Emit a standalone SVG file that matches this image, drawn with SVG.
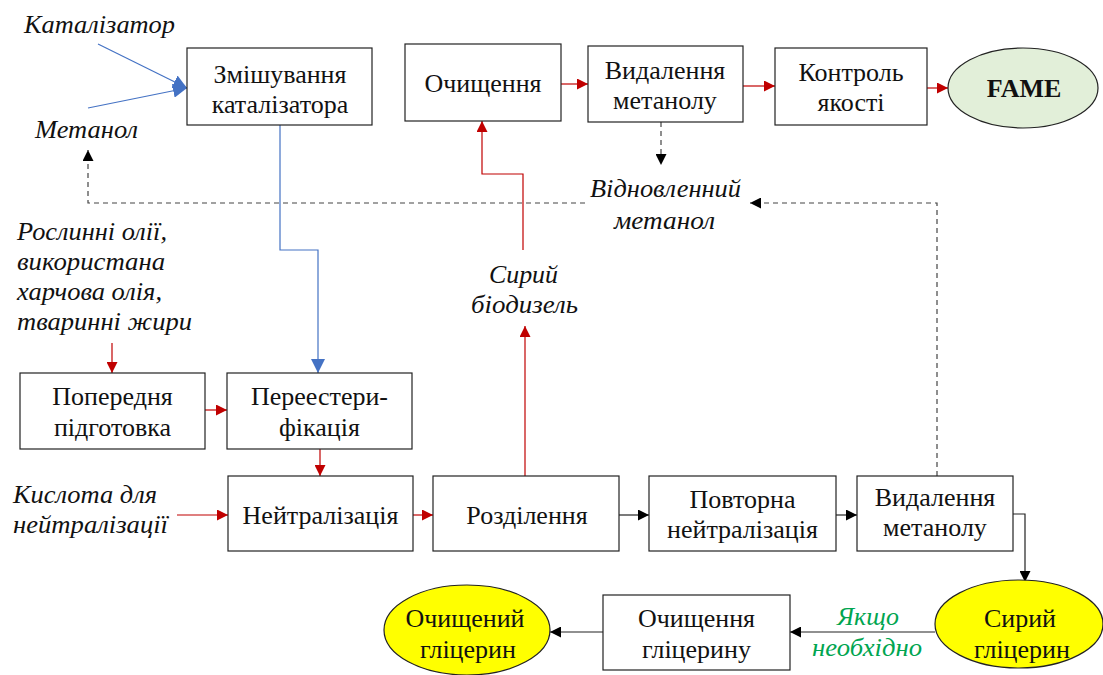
<svg xmlns="http://www.w3.org/2000/svg" width="1103" height="675" viewBox="0 0 1103 675">
<style>
.box{fill:#fff;stroke:#222;stroke-width:1.2}
.t{font-family:"Liberation Serif","Times New Roman",serif;font-size:26px;fill:#111;text-anchor:middle}
.i{font-family:"Liberation Serif","Times New Roman",serif;font-size:25px;font-style:italic;fill:#111}
.red{stroke:#c00000;stroke-width:1.2;fill:none}
.blue{stroke:#4472c4;stroke-width:1.2;fill:none}
.blk{stroke:#222;stroke-width:1.2;fill:none}
.dash{stroke:#444;stroke-width:1.2;fill:none;stroke-dasharray:5,4}
</style>
<defs>
<marker id="ar" viewBox="0 0 10 10" refX="10" refY="5" markerWidth="11" markerHeight="11" markerUnits="userSpaceOnUse" orient="auto"><path d="M0,0L10,5L0,10z" fill="#c00000"/></marker>
<marker id="ab" viewBox="0 0 10 10" refX="10" refY="5" markerWidth="14" markerHeight="14" markerUnits="userSpaceOnUse" orient="auto"><path d="M0,0L10,5L0,10z" fill="#4472c4"/></marker>
<marker id="ak" viewBox="0 0 10 10" refX="10" refY="5" markerWidth="11" markerHeight="11" markerUnits="userSpaceOnUse" orient="auto"><path d="M0,0L10,5L0,10z" fill="#000"/></marker>
</defs>
<g id="connectors">
<line class="blue" x1="98" y1="44" x2="187" y2="88" marker-end="url(#ab)"/>
<line class="blue" x1="88" y1="108" x2="187" y2="88" marker-end="url(#ab)"/>
<polyline class="blue" points="280,125 280,250 318,250 318,373" marker-end="url(#ab)"/>
<polyline class="dash" points="937,476 937,203 750,203" marker-end="url(#ak)"/>
<polyline class="dash" points="585,203 88,203 88,150" marker-end="url(#ak)"/>
<line class="dash" x1="661" y1="122" x2="661" y2="165" marker-end="url(#ak)"/>
<line class="red" x1="525" y1="476" x2="525" y2="326" marker-end="url(#ar)"/>
<polyline class="red" points="523,250 523,174 482,174 482,121" marker-end="url(#ar)"/>
<line class="red" x1="561" y1="84" x2="588" y2="84" marker-end="url(#ar)"/>
<line class="red" x1="743" y1="86" x2="775" y2="86" marker-end="url(#ar)"/>
<line class="red" x1="927" y1="88" x2="948" y2="88" marker-end="url(#ar)"/>
<line class="red" x1="112" y1="343" x2="112" y2="373" marker-end="url(#ar)"/>
<line class="red" x1="205" y1="410" x2="227" y2="410" marker-end="url(#ar)"/>
<line class="red" x1="320" y1="449" x2="320" y2="476" marker-end="url(#ar)"/>
<line class="red" x1="177" y1="515" x2="228" y2="515" marker-end="url(#ar)"/>
<line class="red" x1="413" y1="515" x2="433" y2="515" marker-end="url(#ar)"/>
<line class="blk" x1="619" y1="515" x2="649" y2="515" marker-end="url(#ak)"/>
<line class="blk" x1="836" y1="515" x2="857" y2="515" marker-end="url(#ak)"/>
<polyline class="blk" points="1013,514 1025,514 1025,582" marker-end="url(#ak)"/>
<line class="blk" x1="935" y1="632" x2="790" y2="632" marker-end="url(#ak)"/>
<line class="blk" x1="603" y1="632" x2="550" y2="632" marker-end="url(#ak)"/>
</g>
<g id="labels">
<text class="i" x="24" y="33" textLength="151" lengthAdjust="spacingAndGlyphs">Каталізатор</text>
<text class="i" x="35" y="138" textLength="103" lengthAdjust="spacingAndGlyphs">Метанол</text>
<text class="i" x="590" y="197" textLength="151" lengthAdjust="spacingAndGlyphs">Відновленний</text>
<text class="i" x="614" y="229" textLength="101" lengthAdjust="spacingAndGlyphs">метанол</text>
<text class="i" x="17" y="240" textLength="150" lengthAdjust="spacingAndGlyphs">Рослинні олії,</text>
<text class="i" x="17" y="270" textLength="148" lengthAdjust="spacingAndGlyphs">використана</text>
<text class="i" x="17" y="300" textLength="145" lengthAdjust="spacingAndGlyphs">харчова олія,</text>
<text class="i" x="17" y="330" textLength="175" lengthAdjust="spacingAndGlyphs">тваринні жири</text>
<text class="i" x="489" y="283" textLength="69" lengthAdjust="spacingAndGlyphs">Сирий</text>
<text class="i" x="471" y="313" textLength="107" lengthAdjust="spacingAndGlyphs">біодизель</text>
<text class="i" x="13" y="503" textLength="144" lengthAdjust="spacingAndGlyphs">Кислота для</text>
<text class="i" x="13" y="533" textLength="155" lengthAdjust="spacingAndGlyphs">нейтралізації</text>
<text class="i" x="837" y="625" textLength="62" lengthAdjust="spacingAndGlyphs" style="fill:#00a550">Якщо</text>
<text class="i" x="812" y="656" textLength="110" lengthAdjust="spacingAndGlyphs" style="fill:#00a550">необхідно</text>
</g>
<g id="n-mix"><rect class="box" x="187" y="48" width="185" height="77"/><text class="t" x="280" y="83">Змішування</text><text class="t" x="280" y="113">каталізатора</text></g>
<g id="n-clean"><rect class="box" x="405" y="44" width="156" height="77"/><text class="t" x="483" y="92">Очищення</text></g>
<g id="n-meth1"><rect class="box" x="588" y="46" width="155" height="76"/><text class="t" x="665" y="79">Видалення</text><text class="t" x="665" y="109">метанолу</text></g>
<g id="n-qc"><rect class="box" x="775" y="48" width="152" height="77"/><text class="t" x="851" y="81">Контроль</text><text class="t" x="851" y="111">якості</text></g>
<g id="n-fame"><ellipse cx="1023" cy="88" rx="75" ry="40" fill="#e2efd9" stroke="#222" stroke-width="1.2"/><text class="t" x="1024" y="97" font-weight="bold">FAME</text></g>
<g id="n-prep"><rect class="box" x="20" y="373" width="185" height="76"/><text class="t" x="112.5" y="405">Попередня</text><text class="t" x="112.5" y="436">підготовка</text></g>
<g id="n-trans"><rect class="box" x="227" y="373" width="185" height="76"/><text class="t" x="319.5" y="405">Переестери-</text><text class="t" x="319.5" y="436">фікація</text></g>
<g id="n-neut"><rect class="box" x="228" y="476" width="185" height="75"/><text class="t" x="320.5" y="524">Нейтралізація</text></g>
<g id="n-sep"><rect class="box" x="433" y="476" width="186" height="75"/><text class="t" x="527" y="524">Розділення</text></g>
<g id="n-reneut"><rect class="box" x="649" y="476" width="187" height="75"/><text class="t" x="742.5" y="508">Повторна</text><text class="t" x="742.5" y="538">нейтралізація</text></g>
<g id="n-meth2"><rect class="box" x="857" y="476" width="156" height="75"/><text class="t" x="935" y="506">Видалення</text><text class="t" x="935" y="536">метанолу</text></g>
<g id="n-crudegly"><ellipse cx="1019" cy="624" rx="84" ry="44" fill="#ffff00" stroke="#222" stroke-width="1.2"/><text class="t" x="1020" y="627">Сирий</text><text class="t" x="1022" y="658">гліцерин</text></g>
<g id="n-glyclean"><rect class="box" x="603" y="595" width="187" height="75"/><text class="t" x="696.5" y="627">Очищення</text><text class="t" x="696.5" y="658">гліцерину</text></g>
<g id="n-puregly"><ellipse cx="467" cy="630" rx="83" ry="45" fill="#ffff00" stroke="#222" stroke-width="1.2"/><text class="t" x="465" y="627">Очищений</text><text class="t" x="468" y="658">гліцерин</text></g>
</svg>
